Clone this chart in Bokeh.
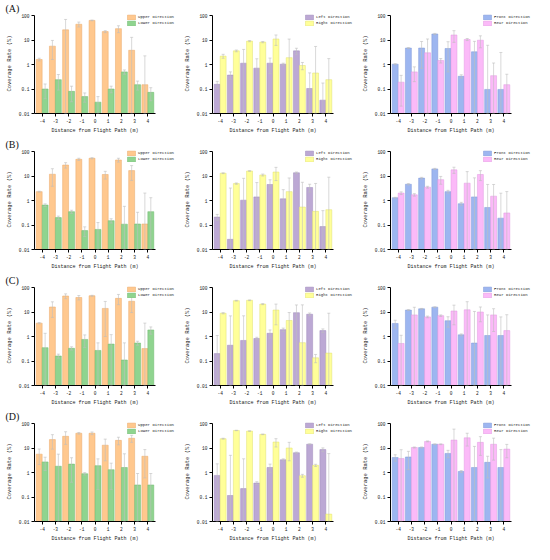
from bokeh.plotting import figure
from bokeh.models import (ColumnDataSource, FixedTicker, Legend, LegendItem, Whisker,
                          TeeHead, Title, Range1d, NumeralTickFormatter)
from bokeh.layouts import gridplot
from bokeh.embed import file_html
from bokeh.resources import INLINE

# ---------------- data ----------------
distances = [-4, -3, -2, -1, 0, 1, 2, 3, 4]
tick_labels = ["-4", "-3", "-2", "-1", "0", "1", "2", "3", "4"]
row_labels = ["(A)", "(B)", "(C)", "(D)"]
x_title = "Distance from Flight Path (m)"
y_title = "Coverage Rate (%)"
y_ticks = [0.01, 0.1, 1, 10, 100]

# Row A
a_upper = [1.6, 5.6, 26, 44, 63, 22, 29, 3.8, 0.15]
a_upper_sd = [0.2, 4, 43, 10, 2, 2, 9, 9, 2.1]
a_lower = [0.1, 0.24, 0.08, 0.049, 0.029, 0.1, 0.5, 0.15, 0.073]
a_lower_sd = [0.06, 0.15, 0.05, 0.02, 0.02, 0.03, 0.1, 0.06, 0.04]
a_left = [0.155, 0.37, 1.13, 0.71, 1.13, 1.03, 3.6, 0.105, 0.035]
a_left_sd = [0.05, 0.13, 3, 1, 0.7, 0.1, 1, 0.35, 0.14]
a_right = [2.2, 3.6, 9, 8.2, 11, 1.9, 0.91, 0.45, 0.24]
a_right_sd = [0.4, 0.3, 0.5, 0.5, 5, 9, 0.3, 5, 1.5]
a_front = [1.03, 4.7, 4.7, 17.6, 4.5, 0.33, 3.3, 0.096, 0.096]
a_front_sd = [0.05, 0.2, 4, 1, 4, 0.05, 5.5, 6, 3]
a_rear = [0.19, 0.5, 3.0, 1.45, 16, 10.5, 9.8, 0.35, 0.15]
a_rear_sd = [0.17, 0.3, 8, 0.3, 8, 1, 5, 0.8, 0.25]

# Row B
b_upper = [2.3, 11.8, 28, 48, 53, 11.5, 45, 16.6, 0.11]
b_upper_sd = [0.1, 8, 7, 5, 3, 4, 8, 10, 1.9]
b_lower = [0.65, 0.2, 0.35, 0.059, 0.066, 0.15, 0.108, 0.11, 0.35]
b_lower_sd = [0.08, 0.03, 0.05, 0.025, 0.06, 0.03, 0.47, 0.22, 0.95]
b_left = [0.21, 0.026, 1.03, 1.4, 4.5, 1.17, 13.5, 3.4, 0.086]
b_left_sd = [0.06, 3.2, 7, 4, 2.5, 1.6, 1, 1.2, 0.3]
b_right = [13, 4.9, 16, 11, 14.5, 2.3, 0.54, 0.36, 0.42]
b_right_sd = [0.5, 0.3, 0.5, 1, 8, 6, 5, 4.6, 8.5]
b_front = [1.3, 4.6, 8.2, 19.5, 2.3, 0.74, 1.4, 0.52, 0.19]
b_front_sd = [0.05, 0.3, 0.6, 1, 0.3, 0.1, 7, 4, 1.8]
b_rear = [2.0, 1.7, 3.5, 7.1, 17.8, 5.1, 11.5, 1.5, 0.31]
b_rear_sd = [0.25, 0.2, 0.3, 2.5, 5, 10, 5, 3, 2]

# Row C
c_upper = [3.5, 16, 45, 39, 46, 14, 36, 27.5, 0.32]
c_upper_sd = [0.2, 10, 10, 8, 2, 13, 16, 18, 3.2]
c_lower = [0.35, 0.16, 0.33, 0.76, 0.27, 0.49, 0.11, 0.54, 1.85]
c_lower_sd = [1, 0.03, 0.05, 0.4, 0.28, 0.7, 0.44, 0.1, 0.6]
c_left = [0.2, 0.44, 0.69, 0.83, 1.35, 1.9, 9.4, 8.1, 1.74]
c_left_sd = [0.9, 6.5, 6.3, 0.1, 0.5, 0.3, 10, 1, 0.3]
c_right = [8.9, 29, 30, 21, 12, 4.5, 0.56, 0.135, 0.21]
c_right_sd = [0.5, 1, 1, 1, 9, 5, 19, 0.05, 8.7]
c_front = [3.4, 12, 13.5, 15.8, 4.4, 1.17, 0.54, 1.1, 1.1]
c_front_sd = [1.2, 0.5, 0.5, 0.5, 2, 0.1, 10, 6.5, 5.2]
c_rear = [0.52, 7.6, 6.3, 7.1, 11, 12.3, 10, 7.6, 1.74]
c_rear_sd = [0.6, 8, 0.5, 0.5, 8, 14, 6, 6, 6]

# Row D
d_upper = [5.6, 22, 30, 40, 40, 13, 20.5, 25, 4.6]
d_upper_sd = [3.5, 13, 16, 3, 5, 10, 7, 8, 4]
d_lower = [2.7, 1.8, 2.2, 0.89, 1.9, 1.3, 1.6, 0.31, 0.31]
d_lower_sd = [1.5, 3.8, 1.8, 0.1, 1.7, 1.1, 4.2, 0.6, 0.6]
d_left = [0.76, 0.115, 0.22, 0.37, 1.6, 3.3, 6.4, 14.3, 8.6]
d_left_sd = [1.5, 4.9, 3.4, 0.05, 0.6, 0.3, 0.4, 0.5, 1.5]
d_right = [24, 52, 49, 36, 17.5, 10, 0.74, 1.96, 0.02]
d_right_sd = [1, 1, 1, 1, 6.5, 7, 0.1, 0.2, 5.9]
d_front = [4.1, 4.3, 10.5, 14.2, 6.0, 1.1, 1.6, 2.6, 1.6]
d_front_sd = [1.2, 3, 0.5, 0.5, 2, 0.1, 10, 2, 7]
d_rear = [3.7, 10.5, 18.6, 14.2, 21, 26, 17, 14.2, 9]
d_rear_sd = [4.8, 0.5, 0.8, 0.5, 38, 14, 12, 11, 5]

series_names = [("Upper Direction", "Lower Direction"),
                ("Left Direction", "Right Direction"),
                ("Front Direction", "Rear Direction")]
series_colors = [("#FFC88E", "#8FD48F"),
                 ("#BCA8D4", "#FFFF99"),
                 ("#9DB6F0", "#FBBAF8")]
edge_colors = [("#E8A868", "#6EB86E"),
               ("#9E8ABA", "#E0E070"),
               ("#7F98D8", "#E098E0")]

rows = [
    [(a_upper, a_upper_sd, a_lower, a_lower_sd), (a_left, a_left_sd, a_right, a_right_sd), (a_front, a_front_sd, a_rear, a_rear_sd)],
    [(b_upper, b_upper_sd, b_lower, b_lower_sd), (b_left, b_left_sd, b_right, b_right_sd), (b_front, b_front_sd, b_rear, b_rear_sd)],
    [(c_upper, c_upper_sd, c_lower, c_lower_sd), (c_left, c_left_sd, c_right, c_right_sd), (c_front, c_front_sd, c_rear, c_rear_sd)],
    [(d_upper, d_upper_sd, d_lower, d_lower_sd), (d_left, d_left_sd, d_right, d_right_sd), (d_front, d_front_sd, d_rear, d_rear_sd)],
]

# ---------------- layout constants ----------------
W, H = 178, 136
BL, BR, BT, BB = 34, 2, 13, 23
FW, FH = W - BL - BR, H - BT - BB
AXIS_W = 121            # pixels of the frame used by the x axis
X0, X1 = -4.58, 4.58
X_END = X0 + (X1 - X0) * FW / AXIS_W
TOP_GAP = 2.0           # pixels between frame top and the "100" tick
YMIN, YMAX = 0.01, 100
DEC = (FH - TOP_GAP) / 4.0
Y_END = YMAX * 10 ** (TOP_GAP / DEC)
BAR_W = 0.45
FONT = "Liberation Mono"
GREY = "#BDBDBD"


def set_if(obj, name, val):
    if name in obj.properties():
        setattr(obj, name, val)


def make_panel(row_i, col_i, data):
    v1, s1, v2, s2 = data
    p = figure(width=W, height=H, y_axis_type="log",
               x_range=Range1d(X0, X_END), y_range=Range1d(YMIN, Y_END),
               output_backend="svg", toolbar_location=None,
               min_border_left=BL, min_border_right=BR,
               min_border_top=BT, min_border_bottom=BB)
    p.outline_line_color = None
    p.xgrid.visible = False
    p.ygrid.visible = False
    p.background_fill_color = "white"

    renderers = []
    for k, (vals, sds) in enumerate([(v1, s1), (v2, s2)]):
        off = -BAR_W / 2 if k == 0 else BAR_W / 2
        xs = [d + off for d in distances]
        hi = [v + s for v, s in zip(vals, sds)]
        lo = [max(v - s, YMIN * 1.02) for v, s in zip(vals, sds)]
        src = ColumnDataSource(dict(x=xs, top=vals, hi=hi, lo=lo))
        r = p.vbar(x="x", top="top", bottom=YMIN, width=BAR_W, source=src,
                   fill_color=series_colors[col_i][k],
                   line_color=edge_colors[col_i][k], line_width=0.5)
        renderers.append(r)
        wk = Whisker(source=src, base="x", upper="hi", lower="lo",
                     line_color=GREY, line_width=0.6, level="overlay",
                     upper_head=TeeHead(size=3, line_color=GREY, line_width=0.6),
                     lower_head=TeeHead(size=3, line_color=GREY, line_width=0.6))
        p.add_layout(wk)

    # axes
    p.xaxis.ticker = FixedTicker(ticks=distances)
    p.xaxis.major_label_overrides = {d: t for d, t in zip(distances, tick_labels)}
    p.xaxis.bounds = (X0, X1)
    p.yaxis.ticker = FixedTicker(ticks=y_ticks)
    p.yaxis.formatter = NumeralTickFormatter(format="0.[00]")
    p.yaxis.bounds = (YMIN, YMAX)
    for ax in (p.xaxis[0], p.yaxis[0]):
        ax.axis_line_color = "black"
        ax.axis_line_width = 1
        ax.major_tick_line_color = "black"
        ax.major_tick_out = 3
        ax.major_tick_in = 0
        ax.minor_tick_line_color = None
        ax.major_label_text_font = FONT
        ax.major_label_text_font_size = "4.5px"
        ax.major_label_text_color = "#222222"
        ax.major_label_standoff = 2
        ax.axis_label_text_font = FONT
        ax.axis_label_text_font_style = "normal"
        ax.axis_label_text_color = "#222222"
        ax.axis_label_standoff = 3
    p.yaxis.axis_label = y_title
    p.yaxis.axis_label_text_font_size = "5.5px"

    # x axis title, centred under the axis line (not the whole frame)
    xt = Title(text=x_title, align="left", text_font=FONT, text_font_size="5px",
               text_font_style="normal", text_color="#222222",
               offset=AXIS_W / 2 - len(x_title) * 0.6 * 5 / 2)
    set_if(xt, "standoff", 1)
    p.add_layout(xt, "below")

    legend = Legend(items=[LegendItem(label=series_names[col_i][0], renderers=[renderers[0]]),
                           LegendItem(label=series_names[col_i][1], renderers=[renderers[1]])],
                    location=(92, FH - 13))
    legend.border_line_color = None
    legend.background_fill_alpha = 0
    legend.label_text_font = FONT
    legend.label_text_font_size = "4px"
    legend.label_text_color = "#222222"
    legend.glyph_width = 10
    legend.glyph_height = 6
    legend.label_height = 6
    legend.label_standoff = 2
    legend.spacing = 0
    legend.padding = 0
    legend.margin = 0
    p.add_layout(legend)

    if col_i == 0:
        p.title.text = row_labels[row_i]
        p.title.align = "left"
        p.title.offset = -29
        p.title.text_font = "Liberation Serif"
        p.title.text_font_size = "10px"
        p.title.text_font_style = "normal"
        p.title.text_color = "#111111"
        set_if(p.title, "standoff", 0)
    return p


plots = []
for i, row in enumerate(rows):
    for j, data in enumerate(row):
        plots.append(make_panel(i, j, data))

layout = gridplot(plots, ncols=3, toolbar_location=None)

open("out.html", "w").write(file_html(layout, INLINE))
